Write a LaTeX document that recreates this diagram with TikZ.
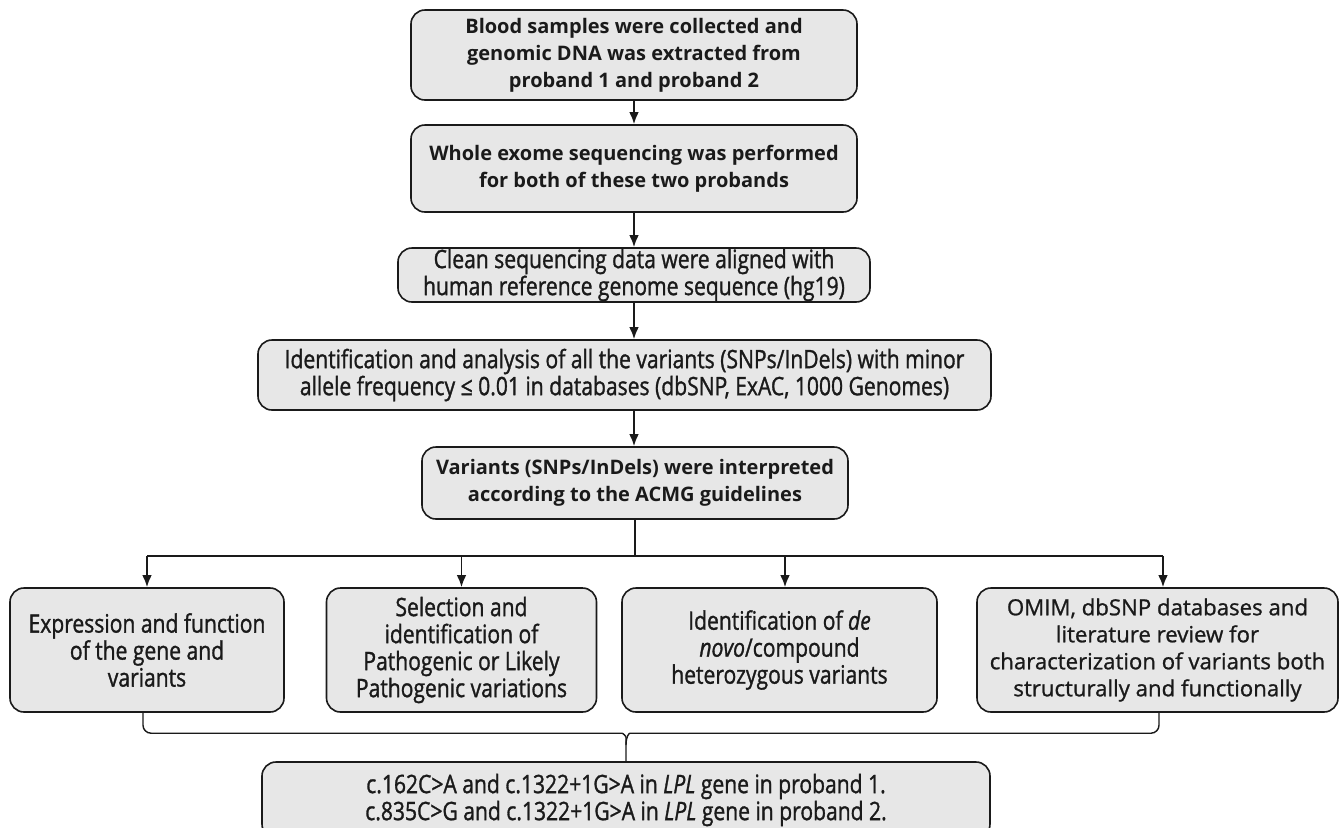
\documentclass[tikz,border=0pt]{standalone}
\usepackage{fontspec}
\setmainfont{Open Sans}
\newfontfamily\fontA{Open Sans}
\newfontfamily\fontB[FakeStretch=0.83,FakeBold=1.2]{Open Sans}
\newfontfamily\fontC[FakeBold=1.0]{Open Sans}
\usetikzlibrary{arrows.meta}
\definecolor{boxgray}{RGB}{231,231,231}
\definecolor{ink}{RGB}{26,26,26}
\begin{document}
\begin{tikzpicture}[x=0.5pt,y=-0.5pt,
  box/.style={draw=ink, line width=0.8pt, fill=boxgray, rounded corners=7pt, align=center, inner sep=0pt, text=ink},
  fa/.style={font=\fontA\bfseries\fontsize{10}{13.5}\selectfont},
  fb/.style={font=\fontB\fontsize{12.7}{13.5}\selectfont},
  fc/.style={font=\fontC\fontsize{11.1}{13.5}\selectfont},
  arr/.style={draw=ink, -{Latex[length=6pt,width=4.8pt]}, line width=0.9pt},
  ln/.style={draw=ink, line width=0.9pt},
  bracepath/.style={draw=ink, line width=0.7pt, rounded corners=4pt}]
\useasboundingbox (0,0) rectangle (1341,827);

\node[box,fa,minimum width=223pt,minimum height=45pt] (n1) at (634,55)
  {Blood samples were collected and\\ genomic DNA was extracted from\\ proband 1 and proband 2};
\node[box,fa,minimum width=223pt,minimum height=43.5pt] (n2) at (634,168.5)
  {Whole exome sequencing was performed\\ for both of these two probands};
\node[box,fb,minimum width=236pt,minimum height=27pt] (n3) at (634,275)
  {Clean sequencing data were aligned with\\ human reference genome sequence (hg19)};
\node[box,fb,minimum width=366.5pt,minimum height=35pt] (n4) at (624.5,375)
  {Identification and analysis of all the variants (SNPs/InDels) with minor\\ allele frequency ≤ 0.01 in databases (dbSNP, ExAC, 1000 Genomes)};
\node[box,fa,minimum width=213pt,minimum height=36pt] (n5) at (635,483)
  {Variants (SNPs/InDels) were interpreted\\ according to the ACMG guidelines};

\node[box,fb,minimum width=137pt,minimum height=62pt] (b1) at (147,650)
  {Expression and function\\ of the gene and\\ variants};
\node[box,fb,minimum width=135pt,minimum height=62pt] (b2) at (461.5,650)
  {Selection and\\ identification of\\ Pathogenic or Likely\\ Pathogenic variations};
\node[box,fb,minimum width=157.5pt,minimum height=62pt] (b3) at (779.5,650)
  {Identification of \textit{de}\\ \textit{novo}/compound\\ heterozygous variants};
\node[box,fc,minimum width=180.5pt,minimum height=62pt] (b4) at (1157.5,650)
  {OMIM, dbSNP databases and\\ literature review for\\ characterization of variants both\\ structurally and functionally};

\node[box,fb,minimum width=364pt,minimum height=38pt] (bot) at (626,800)
  {c.162C>A and c.1322+1G>A in \textit{LPL} gene in proband 1.\\ c.835C>G and c.1322+1G>A in \textit{LPL} gene in proband 2.};

\draw[arr] (n1.south) -- (n1.south |- n2.north);
\draw[arr] (n2.south) -- (n2.south |- n3.north);
\draw[arr] (n3.south) -- (n3.south |- n4.north);
\draw[arr] (n4.south -| n3.south) -- (n3.south |- n5.north);

\draw[ln] (n5.south) -- ++(0,36) coordinate (sp);
\coordinate (t1) at (b1.north);
\coordinate (t2) at (b2.north);
\coordinate (t3) at ([xshift=2.75pt]b3.north);
\coordinate (t4) at ([xshift=2.75pt]b4.north);
\draw[ln] (sp -| t1) -- (sp -| t4);
\draw[arr] (sp -| t1) -- (t1);
\draw[arr] (sp -| t2) -- (t2);
\draw[arr] (sp -| t3) -- (t3);
\draw[arr] (sp -| t4) -- (t4);

\coordinate (arm) at ([yshift=14pt]bot.north);
\draw[bracepath] ([xshift=-2pt]b1.south) -- ([xshift=-2pt]b1.south |- arm) -- ([xshift=-6pt]arm)
  .. controls ([xshift=-1.5pt]arm) and ([yshift=-1.5pt]arm) .. ([yshift=-6pt]arm) -- (bot.north);
\draw[bracepath] ([xshift=0.75pt]b4.south) -- ([xshift=0.75pt]b4.south |- arm) -- ([xshift=6pt]arm)
  .. controls ([xshift=1.5pt]arm) and ([yshift=-1.5pt]arm) .. ([yshift=-6pt]arm);
\end{tikzpicture}
\end{document}
